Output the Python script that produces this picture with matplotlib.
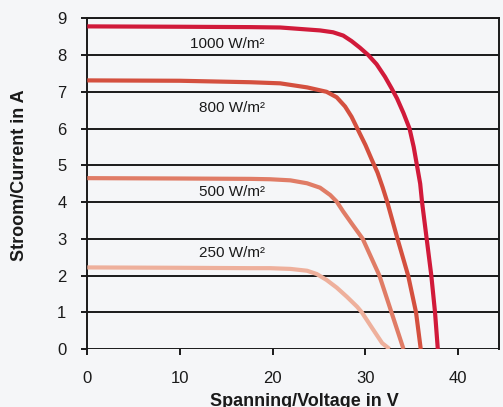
import matplotlib
matplotlib.use("Agg")
import matplotlib.pyplot as plt

# I-V curves (voltage in V, current in A)
v1000 = [0, 10, 17.6, 20.8, 22.95, 25.1, 26.5, 27.6, 28.5, 29.4, 30.3, 31.2, 32.1, 32.8, 33.4, 34.1,
         34.75, 35.2, 35.55, 35.9, 36.1, 36.6, 37.1, 37.5, 37.8]
i1000 = [8.78, 8.77, 8.76, 8.75, 8.71, 8.67, 8.62, 8.53, 8.38, 8.20, 8.0, 7.75, 7.41, 7.10, 6.82, 6.42,
         6.0, 5.5, 5.0, 4.5, 4.0, 3.0, 2.0, 1.0, 0]

v800 = [0, 10, 17.6, 20.8, 23.7, 25.8, 26.9, 27.8, 28.5, 29.2, 30.0, 30.7, 31.3, 31.85, 32.35,
        33.45, 34.6, 35.45, 35.96]
i800 = [7.31, 7.3, 7.26, 7.23, 7.12, 7.0, 6.85, 6.6, 6.32, 5.96, 5.55, 5.14, 4.8, 4.4, 4.0,
        3.0, 2.0, 1.0, 0]

v500 = [0, 10, 17.6, 19.7, 21.9, 23.7, 25.1, 26.2, 26.9, 27.6, 28.5, 29.7, 30.6, 31.5, 32.15,
        32.8, 33.45, 34.1]
i500 = [4.65, 4.64, 4.63, 4.62, 4.59, 4.51, 4.39, 4.19, 4.01, 3.74, 3.42, 3.0, 2.5, 2.0, 1.5,
        1.0, 0.5, 0]

v250 = [0, 10, 17.6, 19.7, 21.9, 23.7, 24.75, 25.8, 26.9, 28.0, 29.1, 29.6, 30.85, 31.8, 32.6]
i250 = [2.22, 2.21, 2.2, 2.2, 2.18, 2.13, 2.04, 1.88, 1.67, 1.42, 1.15, 1.0, 0.52, 0.16, 0]

labels = ["1000 W/m²", "800 W/m²", "500 W/m²", "250 W/m²"]
label_y = [8.30, 6.56, 4.27, 2.61]
colors = ["#d11a3a", "#d4503f", "#e07c66", "#eeb09c"]

x_ticks = [0, 10, 20, 30, 40]
y_ticks = [0, 1, 2, 3, 4, 5, 6, 7, 8, 9]

bg = "#f5f6f8"
plt.rcParams["font.family"] = ["Liberation Sans", "DejaVu Sans"]

fig = plt.figure(figsize=(5.03, 4.07), dpi=100, facecolor=bg)
ax = fig.add_axes([87.3 / 503, 58 / 407, (499 - 87.3) / 503, (349 - 18.3) / 407])
ax.set_facecolor(bg)

# horizontal grid
for y in y_ticks:
    ax.axhline(y, color="#1a1a1a", lw=1.4, zorder=1)

curves = [(v1000, i1000), (v800, i800), (v500, i500), (v250, i250)]
for (v, i), c in zip(curves, colors):
    ax.plot(v, i, color=c, lw=3, solid_capstyle="butt", solid_joinstyle="round", zorder=3)

for txt, y in zip(labels, label_y):
    ax.text(19.15, y, txt, ha="right", va="center", fontsize=11, color="#1a1a1a", zorder=4)

ax.set_xlim(0, 44.4)
ax.set_ylim(0, 9)
ax.set_xticks(x_ticks)
ax.set_yticks(y_ticks)
ax.tick_params(axis="both", labelsize=12, length=4, width=1.4, color="#1a1a1a", labelcolor="#1a1a1a")
ax.tick_params(axis="y", pad=11)
ax.tick_params(axis="x", pad=12)

for side in ["left", "right", "top"]:
    ax.spines[side].set_color("#1a1a1a")
    ax.spines[side].set_linewidth(1.4)
ax.spines["bottom"].set_visible(False)

fig.text(304 / 503, 0.002, "Spanning/Voltage in V", ha="center", va="baseline",
         fontsize=13, fontweight="bold", color="#1a1a1a")
fig.text(20 / 503, 1 - 175 / 407, "Stroom/Current in A", ha="center", va="center",
         rotation=90, fontsize=13, fontweight="bold", color="#1a1a1a")

fig.savefig("out.png", dpi=100, facecolor=bg)
